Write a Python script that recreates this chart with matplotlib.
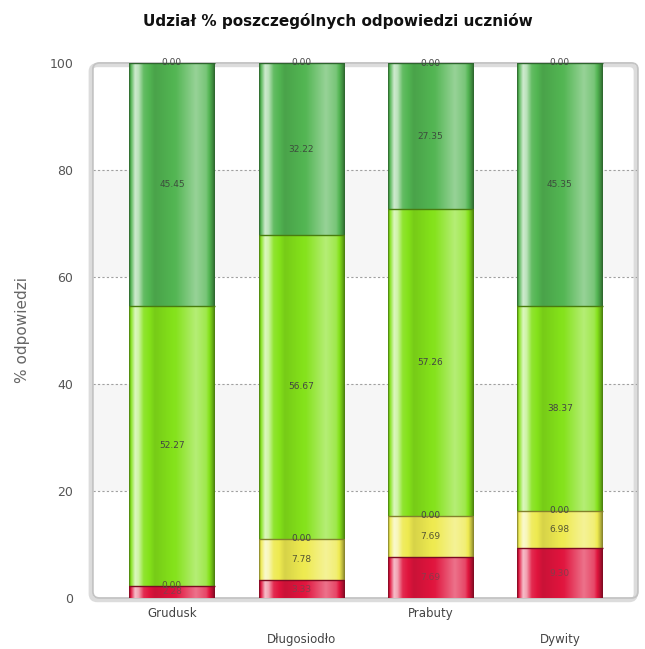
#!/usr/bin/env python3
"""Stacked percentage bars: share of student answers per school."""

import matplotlib

matplotlib.use("Agg")
import matplotlib.pyplot as plt
import numpy as np
from matplotlib.colors import to_rgb
from matplotlib.patches import FancyBboxPatch, Rectangle

TITLE = "Udział % poszczególnych odpowiedzi uczniów"
Y_LABEL = "% odpowiedzi"

categories = ["Grudusk", "Długosiodło", "Prabuty", "Dywity"]

# stacked from bottom to top
red_vals = [2.28, 3.33, 7.69, 9.30]
yellow_vals = [0.00, 7.78, 7.69, 6.98]
mid_vals = [0.00, 0.00, 0.00, 0.00]
lime_vals = [52.27, 56.67, 57.26, 38.37]
green_vals = [45.45, 32.22, 27.35, 45.35]
top_vals = [0.00, 0.00, 0.00, 0.00]

series = [
    (red_vals, "#e0143d", "#8a3a4a"),
    (yellow_vals, "#eeea50", "#555533"),
    (mid_vals, "#a8d830", "#444444"),
    (lime_vals, "#84e21a", "#444444"),
    (green_vals, "#52b552", "#3d4d3d"),
    (top_vals, "#52b552", "#444444"),
]

# horizontal light profile of the "cylinder" look (>0 lighter, <0 darker)
PROFILE_T = [0.0, 0.025, 0.07, 0.11, 0.17, 0.3, 0.55, 0.78, 0.9, 0.97, 1.0]
PROFILE_F = [-0.45, 0.1, 0.72, 0.6, 0.1, -0.1, 0.02, 0.4, 0.22, -0.2, -0.45]


def shaded_row(color, n=200):
    t = np.linspace(0, 1, n)
    f = np.interp(t, PROFILE_T, PROFILE_F)[:, None]
    base = np.array(to_rgb(color))[None, :]
    rgb = np.where(f >= 0, base + (1 - base) * f, base * (1 + f))
    return np.clip(rgb, 0, 1)[None, :, :]


def draw_segment(ax, x, bottom, height, width, color):
    if height <= 0:
        return
    ax.imshow(
        shaded_row(color),
        extent=(x - width / 2, x + width / 2, bottom, bottom + height),
        aspect="auto",
        interpolation="bilinear",
        zorder=3,
    )
    dark = np.array(to_rgb(color)) * 0.55
    ax.plot([x - width / 2, x + width / 2], [bottom + height] * 2,
            color=dark, lw=1.0, zorder=4, solid_capstyle="butt")


fig = plt.figure(figsize=(6.45, 6.49), dpi=100)
ax = fig.add_axes([0.144, 0.0786, 0.845, 0.8244])

x = np.arange(len(categories))
bar_w = 0.66

# alternate background bands and dotted grid
for lo in (20, 60):
    ax.add_patch(Rectangle((-0.611, lo), 4.214, 20, color="#f6f6f6", lw=0, zorder=0))
for yv in (20, 40, 60, 80):
    ax.axhline(yv, color="#a0a0a0", lw=0.8, ls=(0, (2, 2)), zorder=1)

bottoms = np.zeros(len(categories))
placed = set()
for vals, color, txt_color in series:
    vals = np.array(vals)
    for i, xi in enumerate(x):
        draw_segment(ax, xi, bottoms[i], vals[i], bar_w, color)
    for i, xi in enumerate(x):
        ypos = round(bottoms[i] + vals[i] / 2, 3)
        label = f"{vals[i]:.2f}"
        # stacked zero segments sit on one spot; their labels coincide
        if (i, ypos, label) in placed:
            continue
        placed.add((i, ypos, label))
        ax.text(xi, ypos, label, ha="center", va="center", fontsize=6.5,
                color=txt_color, zorder=6)
    bottoms += vals

ax.set_xlim(-0.611, 3.603)
ax.set_ylim(0, 100)

# frame with soft shadow
shadow = FancyBboxPatch((-0.004, -0.004), 1.0, 1.0,
                        boxstyle="round,pad=0,rounding_size=0.012",
                        transform=ax.transAxes, fill=False, ec="#dcdcdc",
                        lw=3, clip_on=False, zorder=0.5)
ax.add_patch(shadow)
frame = FancyBboxPatch((0, 0), 1.0, 1.0,
                       boxstyle="round,pad=0,rounding_size=0.012",
                       transform=ax.transAxes, fill=False, ec="#c4c4c4",
                       lw=1.3, clip_on=False, zorder=2)
ax.add_patch(frame)

for sp in ax.spines.values():
    sp.set_visible(False)

ax.set_yticks([0, 20, 40, 60, 80, 100])
ax.tick_params(axis="y", length=0, pad=14, labelsize=9, labelcolor="#555555")
ax.set_xticks([])

# staggered category labels
for i, (xi, name) in enumerate(zip(x, categories)):
    off = -11 if i % 2 == 0 else -30
    ax.annotate(name, xy=(xi, 0), xycoords=("data", "axes fraction"),
                xytext=(0, off), textcoords="offset points", ha="center",
                va="center", fontsize=8.5, color="#444444")

ax.set_ylabel(Y_LABEL, fontsize=11, color="#666666", labelpad=14)
fig.text(0.524, 0.968, TITLE, ha="center", va="center", fontsize=11,
         fontweight="bold", color="#111111")

fig.savefig("out.png", dpi=100)
